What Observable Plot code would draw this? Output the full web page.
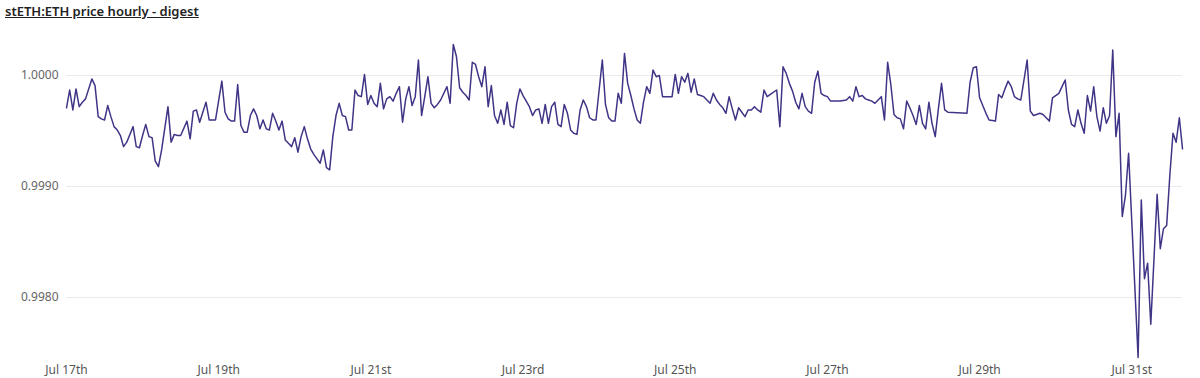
<!DOCTYPE html>
<html>
<head>
<meta charset="utf-8">
<script src="https://cdn.jsdelivr.net/npm/d3@7"></script>
<script src="https://cdn.jsdelivr.net/npm/@observablehq/plot@0.6"></script>
<style>
  html, body { margin: 0; padding: 0; background: #fff; }
  #title {
    height: 25px; box-sizing: border-box; padding: 3px 0 0 5px;
    font-family: "Noto Sans", sans-serif; font-size: 13px; font-weight: 600;
    line-height: 16px; color: #222; text-decoration: underline;
  }
  #chart svg { display: block; overflow: visible; }
</style>
</head>
<body>
<div id="title">stETH:ETH price hourly - digest</div>
<div id="chart"></div>
<script>
// Hours since Jul 17, 00:00 UTC
const hours = [0,1,2,3,4,5,6,8,9,10,11,12,13,14,15,16,17,18,19,21,22,23,24,25,26,27,28,29,30,32,33,34,35,36,38,39,40,41,42,44,45,47,49,50,51,52,53,54,55,56,57,58,59,60,61,62,63,64,65,66,67,68,69,70,71,72,73,74,75,76,77,78,79,80,81,82,83,84,85,86,87,88,89,90,91,92,93,94,95,96,97,98,99,100,101,102,103,104,105,106,107,108,109,110,111,112,113,114,115,116,117,118,120,121,122,123,124,125,126,127,128,129,130,131,132,133,134,135,136,137,138,139,140,141,142,143,144,145,146,147,148,149,150,151,152,153,154,155,156,157,158,159,160,161,162,163,164,165,166,167,169,170,171,172,173,174,175,176,177,178,179,180,181,182,183,184,185,186,187,188,191,192,193,194,195,196,197,198,199,200,201,202,203,204,205,206,207,208,209,210,211,212,213,214,215,216,217,218,219,220,221,222,224,225,226,227,228,229,230,231,232,233,234,235,236,237,238,239,240,241,242,244,246,247,248,249,250,251,252,253,254,255,256,257,258,259,260,261,262,263,264,265,266,267,268,269,270,271,272,273,274,275,276,277,278,284,285,286,287,288,289,290,291,293,294,295,296,297,298,299,300,301,303,304,305,306,307,308,310,311,313,314,315,316,317,318,319,320,321,322,323,324,325,326,327,328,329,330,331,332,333,334,335,338,339,340,341,342,344,345,346,347,348,349,350,351,352];

const prices = [.99971,.99987,.99969,.99988,.99972,.99976,.99979,.99997,.99991,.99963,.99961,.99960,.99973,.99963,.99954,.99951,.99946,.99936,.99940,.99954,.99936,.99935,.99946,.99956,.99945,.99944,.99923,.99918,.99933,.99972,.99940,.99947,.99946,.99946,.99959,.99943,.99968,.99969,.99958,.99976,.99960,.99960,.99995,.99967,.99961,.99959,.99959,.99992,.99955,.99949,.99949,.99964,.99970,.99964,.99952,.99960,.99952,.99951,.99966,.99959,.99951,.99959,.99942,.99939,.99936,.99944,.99931,.99945,.99954,.99943,.99934,.99929,.99925,.99921,.99933,.99917,.99915,.99945,.99964,.99975,.99964,.99963,.99951,.99951,.99987,.99982,.99981,1.00001,.99974,.99982,.99975,.99972,.99993,.99970,.99979,.99981,.99977,.99984,.99990,.99958,.99979,.99990,.99973,.99981,1.00014,.99964,.99981,.99999,.99975,.99971,.99974,.99978,.99990,.99975,1.00028,1.00017,.99989,.99985,.99982,.99978,1.00012,1.00010,.99999,.99990,1.00008,.99972,.99991,.99964,.99957,.99969,.99956,.99976,.99955,.99953,.99975,.99988,.99982,.99977,.99972,.99964,.99969,.99970,.99957,.99974,.99957,.99972,.99976,.99956,.99954,.99974,.99966,.99951,.99948,.99947,.99969,.99978,.99972,.99962,.99960,.99960,1.00014,.99974,.99962,.99959,.99959,.99984,.99975,1.00020,.99993,.99982,.99970,.99960,.99957,.99976,.99990,.99984,1.00005,.99999,1.00000,.99981,.99981,1.00001,.99984,.99999,.99994,1.00002,.99985,.99997,.99983,.99982,.99981,.99978,.99975,.99984,.99978,.99974,.99971,.99966,.99981,.99970,.99960,.99971,.99967,.99963,.99969,.99969,.99972,.99969,.99967,.99987,.99981,.99983,.99987,.99954,1.00008,1.00002,.99993,.99986,.99976,.99970,.99984,.99972,.99968,.99966,.99994,1.00004,.99984,.99982,.99981,.99977,.99977,.99977,.99978,.99981,.99977,.99990,.99981,.99982,.99979,.99978,.99977,.99975,.99978,.99981,.99960,1.00012,.99992,.99965,.99962,.99961,.99952,.99977,.99971,.99964,.99956,.99973,.99957,.99952,.99976,.99957,.99945,.99970,.99993,.99969,.99967,.99966,.99994,1.00007,1.00008,.99980,.99973,.99966,.99960,.99959,.99983,.99980,.99988,.99995,.99990,.99981,.99979,.99978,1.00014,.99968,.99964,.99965,.99966,.99965,.99959,.99980,.99984,.99990,.99996,.99969,.99956,.99954,.99969,.99957,.99948,.99982,.99968,.99990,.99963,.99950,.99971,.99957,.99964,1.00023,.99945,.99966,.99873,.99892,.99930,.99746,.99888,.99817,.99831,.99776,.99893,.99844,.99862,.99865,.99910,.99948,.99940,.99962,.99934];

const xTickDays = [17, 19, 21, 23, 25, 27, 29, 31];
const xTickLabels = ["Jul 17th", "Jul 19th", "Jul 21st", "Jul 23rd", "Jul 25th", "Jul 27th", "Jul 29th", "Jul 31st"];
const yTicks = [0.998, 0.999, 1.0];

const start = Date.UTC(2023, 6, 17, 0, 0);
const data = hours.map((h, i) => ({date: new Date(start + h * 3600e3), price: prices[i]}));
const xTicks = xTickDays.map(d => new Date(Date.UTC(2023, 6, d)));
const labelFor = new Map(xTicks.map((d, i) => [+d, xTickLabels[i]]));

const chart = Plot.plot({
  width: 1200,
  height: 353,
  marginTop: 19,
  marginBottom: 21,
  marginLeft: 66,
  marginRight: 18,
  style: {fontFamily: "Noto Sans, sans-serif", fontSize: "12px", color: "#666", background: "#fff", overflow: "visible"},
  x: {type: "utc", domain: d3.extent(data, d => d.date)},
  y: {domain: d3.extent(prices)},
  marks: [
    Plot.gridY(yTicks, {stroke: "#e9e9e9", strokeOpacity: 1}),
    Plot.axisY(yTicks, {tickSize: 0, tickPadding: 8, tickFormat: d3.format(".4f"), label: null, fill: "#666"}),
    Plot.axisX(xTicks, {tickSize: 0, tickPadding: 8, tickFormat: d => labelFor.get(+d), label: null, fill: "#555"}),
    Plot.line(data, {x: "date", y: "price", stroke: "#3f3586", strokeWidth: 1.5})
  ]
});
document.getElementById("chart").appendChild(chart);
</script>
</body>
</html>
